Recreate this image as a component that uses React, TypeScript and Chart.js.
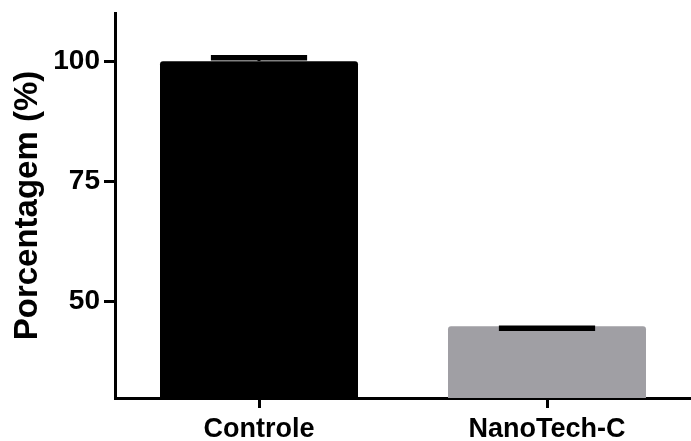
import { useEffect, useRef } from "react";
import { Chart, registerables } from "chart.js";
Chart.register(...registerables);

const categories = ["Controle", "NanoTech-C"];
const meanValues = [100, 44.9];
const errorValues = [100.7, 44.5];
const yTicks = [50, 75, 100];
const barColors = ["#000000", "#a09fa4"];

const FONT = "'Liberation Sans', Arial, sans-serif";

const errorBarPlugin = {
  id: "errorBars",
  afterDatasetsDraw(chart: any) {
    const { ctx } = chart;
    const meta = chart.getDatasetMeta(0);
    const y = chart.scales.y;
    ctx.save();
    ctx.strokeStyle = "#000";
    ctx.lineCap = "butt";
    meta.data.forEach((bar: any, i: number) => {
      const x = bar.x;
      const half = bar.width * 0.243;
      const yMean = y.getPixelForValue(meanValues[i]);
      const yErr = y.getPixelForValue(errorValues[i]);
      ctx.lineWidth = 3;
      ctx.beginPath();
      ctx.moveTo(x, yMean);
      ctx.lineTo(x, yErr);
      ctx.stroke();
      ctx.lineWidth = 5.5;
      ctx.beginPath();
      ctx.moveTo(x - half, yErr);
      ctx.lineTo(x + half, yErr);
      ctx.stroke();
    });
    ctx.restore();
  },
};

export default function App() {
  const ref = useRef<HTMLCanvasElement>(null);
  useEffect(() => {
    if (!ref.current) return;
    const chart = new Chart(ref.current, {
      type: "bar",
      data: {
        labels: categories,
        datasets: [
          {
            data: meanValues,
            backgroundColor: barColors,
            borderWidth: 0,
            borderRadius: 3,
            borderSkipped: "bottom",
            barPercentage: 0.6875,
            categoryPercentage: 1,
          },
        ],
      },
      plugins: [errorBarPlugin],
      options: {
        animation: false,
        responsive: true,
        maintainAspectRatio: false,
        layout: { padding: { top: 13, right: 0, left: 0, bottom: 0 } },
        plugins: { legend: { display: false }, tooltip: { enabled: false } },
        scales: {
          x: {
            type: "category",
            z: 1,
            grid: {
              display: true,
              drawOnChartArea: false,
              drawTicks: true,
              tickLength: 10,
              tickWidth: 3,
              tickColor: "#000",
              offset: false,
            },
            border: { display: true, color: "#000", width: 3 },
            ticks: {
              color: "#000",
              font: { family: FONT, size: 27, weight: "bold" },
              padding: 5,
            },
            afterFit: (s: any) => {
              s.height = 43;
              s.paddingLeft = 0;
              s.paddingRight = 0;
            },
          },
          y: {
            min: 30,
            max: 110,
            z: 1,
            afterBuildTicks: (s: any) => {
              s.ticks = yTicks.map((v) => ({ value: v }));
            },
            grid: {
              drawOnChartArea: false,
              drawTicks: true,
              tickLength: 11,
              tickWidth: 3,
              tickColor: "#000",
            },
            border: { display: true, color: "#000", width: 3 },
            ticks: {
              color: "#000",
              font: { family: FONT, size: 28, weight: "bold" },
              padding: 4,
            },
            title: {
              display: true,
              text: "Porcentagem (%)",
              color: "#000",
              font: { family: FONT, size: 33, weight: "bold" },
              padding: { top: 8, bottom: 0 },
            },
            afterFit: (s: any) => {
              s.width = 115;
              s.paddingTop = 0;
              s.paddingBottom = 0;
            },
          },
        },
      },
    });
    return () => chart.destroy();
  }, []);
  return (
    <div style={{ position: "fixed", left: 0, top: 0, width: 691, height: 441, background: "#fff" }}>
      <canvas ref={ref} />
    </div>
  );
}
